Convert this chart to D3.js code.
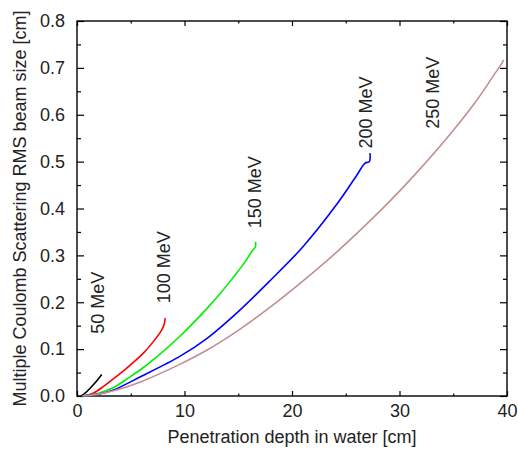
<!DOCTYPE html>
<html>
<head>
<meta charset="utf-8">
<script src="https://cdn.jsdelivr.net/npm/d3@7"></script>
<style>
  html, body { margin: 0; padding: 0; background: #fff; }
  svg text { font-family: "Liberation Sans", Arial, Helvetica, sans-serif; fill: #222; }
</style>
</head>
<body>
<svg id="chart" width="518" height="450"></svg>
<script>
// Beam energies and their colours
const energies = ["50 MeV", "100 MeV", "150 MeV", "200 MeV", "250 MeV"];
const colors = ["#000000", "#ff0000", "#00ee00", "#0000ff", "#c09090"];

// Depth [cm] and RMS beam size [cm] for each energy
const depth50 = [0.4, 0.8, 1.2, 1.6, 2.0, 2.3];
const size50 = [0.0, 0.007, 0.016, 0.026, 0.037, 0.046];

const depth100 = [0.5, 1.5, 2.5, 3.4, 4.5, 5.2, 6.2, 7.1, 7.8, 8.1, 8.2];
const size100 = [0.0, 0.006, 0.021, 0.037, 0.057, 0.071, 0.092, 0.116, 0.138, 0.152, 0.166];

const depth150 = [0.5, 2.0, 3.4, 5.0, 5.9, 7.5, 9.6, 12.1, 13.3, 14.5, 15.6, 16.3, 16.6, 16.6];
const size150 = [0.0, 0.006, 0.018, 0.042, 0.056, 0.085, 0.128, 0.187, 0.218, 0.252, 0.285, 0.310, 0.318, 0.329];

const depth200 = [0.5, 2.0, 3.4, 5.9, 9.6, 12.1, 15.0, 18.0, 21.0, 24.2, 26.0, 26.8, 27.2, 27.25];
const size200 = [0.0, 0.004, 0.013, 0.041, 0.085, 0.123, 0.180, 0.247, 0.318, 0.410, 0.470, 0.497, 0.500, 0.518];

const depth250 = [0.5, 2.0, 3.4, 5.9, 9.6, 12.1, 15.0, 18.0, 21.0, 24.2, 28.2, 30.0, 31.3, 34.4, 37.0, 39.0, 39.5, 39.7];
const size250 = [0.0, 0.004, 0.011, 0.030, 0.068, 0.098, 0.140, 0.190, 0.245, 0.308, 0.395, 0.437, 0.469, 0.550, 0.625, 0.692, 0.709, 0.717];

// Label anchor (depth, size) for each energy, text runs upward from here
const labelDepth = [1.95, 8.1, 16.5, 26.9, 33.1];
const labelSize = [0.133, 0.198, 0.358, 0.528, 0.570];

const xTicks = [0, 10, 20, 30, 40];
const yTicks = [0.0, 0.1, 0.2, 0.3, 0.4, 0.5, 0.6, 0.7, 0.8];
const xMinor = [5, 15, 25, 35];
const yMinor = [0.05, 0.15, 0.25, 0.35, 0.45, 0.55, 0.65, 0.75];

const xLabel = "Penetration depth in water [cm]";
const yLabel = "Multiple Coulomb Scattering RMS beam size [cm]";

const series = [
  [depth50, size50], [depth100, size100], [depth150, size150],
  [depth200, size200], [depth250, size250]
].map(([xs, ys], i) => ({
  name: energies[i], color: colors[i],
  points: xs.map((d, j) => [d, ys[j]])
}));

const margin = { left: 77, right: 11, top: 21, bottom: 54 };
const W = 518, H = 450;
const svg = d3.select("#chart");

const x = d3.scaleLinear().domain([0, 40]).range([margin.left, W - margin.right]);
const y = d3.scaleLinear().domain([0, 0.8]).range([H - margin.bottom, margin.top]);

const fontSize = 18;

// Major axes with labels (ticks point inward)
svg.append("g")
  .attr("transform", `translate(0,${y(0)})`)
  .call(d3.axisBottom(x).tickValues(xTicks).tickFormat(d3.format("d"))
    .tickSizeInner(-5).tickSizeOuter(0).tickPadding(8))
  .call(g => g.selectAll("text").attr("font-size", fontSize).attr("dy", "0.71em"));

svg.append("g")
  .attr("transform", `translate(${x(0)},0)`)
  .call(d3.axisLeft(y).tickValues(yTicks).tickFormat(d3.format(".1f"))
    .tickSizeInner(-7).tickSizeOuter(0).tickPadding(12))
  .call(g => g.selectAll("text").attr("font-size", fontSize));

// Mirror ticks on top and right
svg.append("g")
  .attr("transform", `translate(0,${y(0.8)})`)
  .call(d3.axisTop(x).tickValues(xTicks).tickFormat("").tickSizeInner(-5).tickSizeOuter(0));
svg.append("g")
  .attr("transform", `translate(${x(40)},0)`)
  .call(d3.axisRight(y).tickValues(yTicks).tickFormat("").tickSizeInner(-7).tickSizeOuter(0));

// Minor ticks on all four sides
svg.append("g").attr("transform", `translate(0,${y(0)})`)
  .call(d3.axisBottom(x).tickValues(xMinor).tickFormat("").tickSizeInner(-2.5).tickSizeOuter(0));
svg.append("g").attr("transform", `translate(0,${y(0.8)})`)
  .call(d3.axisTop(x).tickValues(xMinor).tickFormat("").tickSizeInner(-2.5).tickSizeOuter(0));
svg.append("g").attr("transform", `translate(${x(0)},0)`)
  .call(d3.axisLeft(y).tickValues(yMinor).tickFormat("").tickSizeInner(-4).tickSizeOuter(0));
svg.append("g").attr("transform", `translate(${x(40)},0)`)
  .call(d3.axisRight(y).tickValues(yMinor).tickFormat("").tickSizeInner(-4).tickSizeOuter(0));

svg.selectAll(".domain").remove();
svg.selectAll(".tick line").attr("stroke", "#000").attr("stroke-width", 1.2);

// Plot frame
svg.append("rect")
  .attr("x", x(0)).attr("y", y(0.8))
  .attr("width", x(40) - x(0)).attr("height", y(0) - y(0.8))
  .attr("fill", "none").attr("stroke", "#000").attr("stroke-width", 1.4);

// Curves
const line = d3.line()
  .x(d => x(d[0])).y(d => y(d[1]))
  .curve(d3.curveCatmullRom.alpha(0.5));
svg.append("g").selectAll("path")
  .data(series)
  .join("path")
  .attr("d", d => line(d.points))
  .attr("fill", "none")
  .attr("stroke", d => d.color)
  .attr("stroke-width", 1.6)
  .attr("stroke-linejoin", "round");

// Energy labels, rotated
svg.append("g").selectAll("text")
  .data(energies)
  .join("text")
  .attr("transform", (d, i) => `translate(${x(labelDepth[i])},${y(labelSize[i])}) rotate(-90)`)
  .attr("font-size", fontSize)
  .attr("dy", "0.35em")
  .text(d => d);

// Axis titles
svg.append("text")
  .attr("x", (x(0) + x(40)) / 2).attr("y", 443)
  .attr("text-anchor", "middle").attr("font-size", fontSize)
  .text(xLabel);

svg.append("text")
  .attr("transform", `translate(20,${(y(0) + y(0.8)) / 2}) rotate(-90)`)
  .attr("text-anchor", "middle").attr("dy", "0.35em").attr("font-size", fontSize)
  .text(yLabel);
</script>
</body>
</html>
